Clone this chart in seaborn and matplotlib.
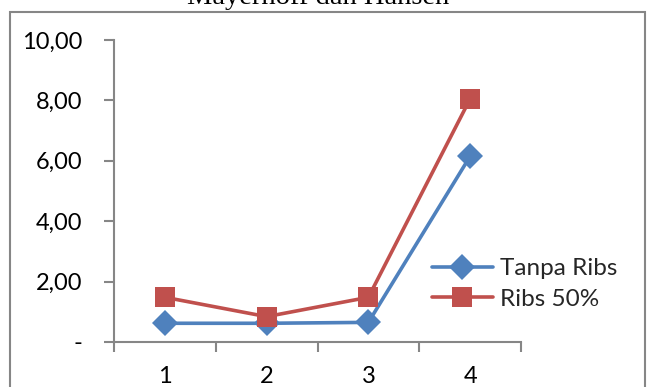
import matplotlib
matplotlib.use("Agg")
import matplotlib.pyplot as plt
import seaborn as sns
import pandas as pd
from matplotlib.patches import Rectangle
from matplotlib.ticker import FixedLocator, NullFormatter, FixedFormatter

title = "Mayerhoff dan Hansen"
categories = [1, 2, 3, 4]
tanpa_ribs = [0.62, 0.62, 0.65, 6.15]
ribs_50 = [1.48, 0.84, 1.48, 8.05]
series_names = ["Tanpa Ribs", "Ribs 50%"]
y_ticks = [0, 2, 4, 6, 8, 10]
y_tick_labels = ["-", "2,00", "4,00", "6,00", "8,00", "10,00"]

sns.set_theme(style="white")
plt.rcParams["font.family"] = ["Lato", "DejaVu Sans"]

df = pd.DataFrame({
    "x": categories * 2,
    "y": tanpa_ribs + ribs_50,
    "series": [series_names[0]] * 4 + [series_names[1]] * 4,
})

W, H = 649, 387
fig = plt.figure(figsize=(W / 100, H / 100), dpi=100)
ax = fig.add_axes([114 / W, (H - 342) / H, (521 - 114) / W, (342 - 40) / H])

palette = {series_names[0]: "#4F81BD", series_names[1]: "#C0504D"}
sns.lineplot(data=df, x="x", y="y", hue="series", style="series",
             markers={series_names[0]: "D", series_names[1]: "s"},
             dashes=False, palette=palette, linewidth=2.6,
             markersize=14.5, markeredgewidth=0, ax=ax, legend=True)
for line in ax.get_lines():
    if line.get_marker() == "D":
        line.set_markersize(13.5)

ax.set_xlim(0.5, 4.5)
ax.set_ylim(0, 10)
ax.set_xlabel("")
ax.set_ylabel("")
ax.xaxis.set_major_locator(FixedLocator([0.5, 1.5, 2.5, 3.5, 4.5]))
ax.xaxis.set_major_formatter(NullFormatter())
ax.xaxis.set_minor_locator(FixedLocator(categories))
ax.xaxis.set_minor_formatter(FixedFormatter([str(c) for c in categories]))
ax.tick_params(axis="x", which="major", direction="out", length=7, width=1.5,
               color="#868686", bottom=True)
ax.tick_params(axis="x", which="minor", length=0, pad=17, labelsize=17,
               labelcolor="black", bottom=True)
ax.set_yticks(y_ticks)
ax.set_yticklabels(y_tick_labels)
ax.tick_params(axis="y", direction="out", length=7, width=1.5, color="#868686",
               pad=16, labelsize=17, labelcolor="black", left=True)
for s in ["top", "right"]:
    ax.spines[s].set_visible(False)
for s in ["left", "bottom"]:
    ax.spines[s].set_color("#868686")
    ax.spines[s].set_linewidth(1.5)

leg = ax.legend(loc="upper left", bbox_to_anchor=(432 / W, (H - 258) / H),
                bbox_transform=fig.transFigure, frameon=False, fontsize=17.5,
                handlelength=2.5, handletextpad=0.3, labelspacing=0.4,
                borderpad=0, borderaxespad=0)

fig.patches.append(Rectangle((10 / W, -0.05), (645 - 10) / W, (H - 12) / H + 0.05,
                             transform=fig.transFigure, fill=False,
                             edgecolor="#868686", linewidth=1.5, zorder=0))
fig.text(318 / W, (H - 4) / H, title, ha="center", va="baseline",
         family=["Liberation Serif"], fontsize=20.5, color="black")

fig.savefig("out.png", dpi=100)
